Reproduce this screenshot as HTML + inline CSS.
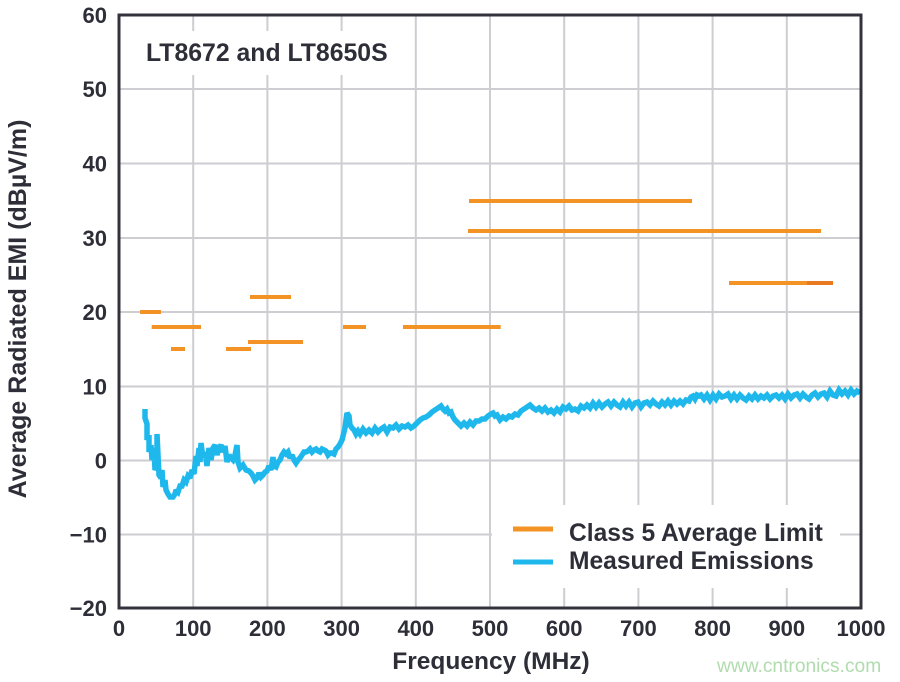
<!DOCTYPE html>
<html>
<head>
<meta charset="utf-8">
<style>
html,body{margin:0;padding:0;background:#fff;}
svg{display:block;}
text{font-family:"Liberation Sans",Arial,sans-serif;}
</style>
</head>
<body>
<svg width="900" height="682" viewBox="0 0 900 682" xmlns="http://www.w3.org/2000/svg">
<rect x="0" y="0" width="900" height="682" fill="#fff"/>
<!-- grid -->
<g stroke="#cdcdd2" stroke-width="2" fill="none">
<line x1="119" y1="89" x2="861" y2="89"/>
<line x1="119" y1="163.5" x2="861" y2="163.5"/>
<line x1="119" y1="238" x2="861" y2="238"/>
<line x1="119" y1="312" x2="861" y2="312"/>
<line x1="119" y1="386.5" x2="861" y2="386.5"/>
<line x1="119" y1="460.5" x2="861" y2="460.5"/>
<line x1="119" y1="534.5" x2="861" y2="534.5"/>
<line x1="193.2" y1="15" x2="193.2" y2="608"/>
<line x1="267.4" y1="15" x2="267.4" y2="608"/>
<line x1="341.6" y1="15" x2="341.6" y2="608"/>
<line x1="415.8" y1="15" x2="415.8" y2="608"/>
<line x1="490" y1="15" x2="490" y2="608"/>
<line x1="564.2" y1="15" x2="564.2" y2="608"/>
<line x1="638.4" y1="15" x2="638.4" y2="608"/>
<line x1="712.6" y1="15" x2="712.6" y2="608"/>
<line x1="786.8" y1="15" x2="786.8" y2="608"/>
</g>
<!-- title box & legend box -->
<rect x="121" y="31" width="280" height="44" fill="#fff"/>
<rect x="492" y="505" width="348" height="83" fill="#fff"/>
<!-- limit lines -->
<g stroke="#f39325" stroke-width="4" fill="none">
<line x1="140" y1="312" x2="161" y2="312"/>
<line x1="151.7" y1="327" x2="201" y2="327"/>
<line x1="343" y1="327" x2="366" y2="327"/>
<line x1="403" y1="327" x2="500.7" y2="327"/>
<line x1="171" y1="349" x2="185" y2="349"/>
<line x1="226" y1="349" x2="251" y2="349"/>
<line x1="250" y1="297" x2="291" y2="297"/>
<line x1="248" y1="342" x2="303" y2="342"/>
<line x1="469" y1="201" x2="692" y2="201"/>
<line x1="468" y1="231" x2="821" y2="231"/>
<line x1="729" y1="283" x2="807" y2="283"/>
</g>
<line x1="807" y1="283" x2="833" y2="283" stroke="#ea7a22" stroke-width="4"/>
<!-- measured emissions -->
<polyline fill="none" stroke="#1fb8ec" stroke-width="5.5" stroke-linejoin="miter" stroke-miterlimit="2" points="
145,409 145,418 147,424 147,440 149,435 149,452 151,445 152,460 154,448 155,470 157,466 157,434 158,455 159,475 161,478 162,470 163,487 165,480 166,490 168,494 170,497 173,497 175,494 176,490 178,492 180,486 182,486 184,480 186,482 188,476 190,478 192,470 194,474 196,456 197,466 199,448 200,462 201,443 203,458 205,452 207,466 209,448 211,460 213,448 215,445 217,455 219,448 221,445 223,452 225,446 227,462 229,455 231,458 233,460 235,455 237,445 238,462 240,468 243,465 246,470 249,471 251,473 253,476 255,480 257,478 259,473 261,477 263,475 265,472 267,471 269,466 271,470 273,457 274,466 276,467 278,462 280,460 282,455 284,452 286,454 288,452 290,458 292,455 294,460 296,463 298,460 300,458 302,455 304,452 306,452 308,451 310,449 312,452 314,450 316,449 318,451 320,452 322,449 324,450 326,451 328,455 330,453 332,453 334,454 336,449 338,447 340,444 342,440 344,432 345,428 346,420 347,413 349,416 350,425 352,428 354,430 356,434 358,431 360,434 363,429 366,433 369,430 372,433 375,428 378,432 381,429 384,427 387,432 390,427 393,428 396,425 399,429 402,426 405,427 408,425 411,428 414,426 416,424 418,422 420,420 423,418 426,417 429,415 432,412 435,410 438,408 441,406 443,409 445,411 447,409 449,413 451,412 453,417 455,420 458,423 461,426 464,423 467,426 470,422 473,425 476,421 479,421 482,419 485,419 488,416 491,414 493,413 495,416 497,415 500,420 503,417 506,419 509,416 512,417 515,414 518,415 521,411 524,409 527,407 530,405 533,408 536,410 539,408 542,411 545,408 548,412 551,410 554,413 557,409 560,412 563,407 566,409 569,406 572,410 575,409 578,411 581,406 584,408 587,405 590,408 593,403 596,407 599,403 602,407 605,404 608,402 611,406 614,402 617,405 620,407 623,402 626,406 629,402 632,407 635,403 638,402 641,407 644,403 647,402 650,405 653,401 656,404 659,406 662,402 665,405 668,401 671,405 674,401 677,404 680,401 683,404 686,400 689,401 691,397 693,396 695,399 697,395 699,396 701,395 704,399 707,395 710,400 713,395 716,399 719,394 722,397 725,396 728,394 731,399 734,395 737,399 740,395 743,398 746,400 749,396 752,399 755,395 758,399 761,396 764,398 767,395 770,399 773,396 776,395 779,398 782,395 785,399 788,394 791,398 794,395 797,394 800,398 803,394 806,397 809,399 812,395 815,393 818,397 821,394 824,393 827,397 830,391 833,395 836,396 839,390 842,394 845,391 848,395 851,390 854,394 857,391 860,393"/>
<!-- frame -->
<rect x="119" y="15" width="742" height="593" fill="none" stroke="#33333d" stroke-width="3"/>
<!-- title -->
<text x="146" y="61" font-size="24.8" font-weight="bold" fill="#2e2e38">LT8672 and LT8650S</text>
<!-- legend -->
<line x1="513" y1="529" x2="553" y2="529" stroke="#f39325" stroke-width="5"/>
<line x1="513" y1="562" x2="553" y2="562" stroke="#1fb8ec" stroke-width="5"/>
<text x="569" y="541" font-size="24.6" font-weight="bold" fill="#2e2e38">Class 5 Average Limit</text>
<text x="569" y="569" font-size="24.6" font-weight="bold" fill="#2e2e38">Measured Emissions</text>
<!-- y ticks -->
<g font-size="22" font-weight="bold" fill="#2e2e38" text-anchor="end">
<text x="107" y="23">60</text>
<text x="107" y="97">50</text>
<text x="107" y="171.5">40</text>
<text x="107" y="246">30</text>
<text x="107" y="320">20</text>
<text x="107" y="394.5">10</text>
<text x="107" y="468.5">0</text>
<text x="107" y="542.5">−10</text>
<text x="107" y="616">−20</text>
</g>
<!-- x ticks -->
<g font-size="22" font-weight="bold" fill="#2e2e38" text-anchor="middle">
<text x="119" y="636">0</text>
<text x="193.2" y="636">100</text>
<text x="267.4" y="636">200</text>
<text x="341.6" y="636">300</text>
<text x="415.8" y="636">400</text>
<text x="490" y="636">500</text>
<text x="564.2" y="636">600</text>
<text x="638.4" y="636">700</text>
<text x="712.6" y="636">800</text>
<text x="786.8" y="636">900</text>
<text x="861" y="636">1000</text>
</g>
<!-- axis labels -->
<text x="491" y="669" font-size="24.5" font-weight="bold" fill="#2e2e38" text-anchor="middle">Frequency (MHz)</text>
<text transform="translate(26,309) rotate(-90)" font-size="25" font-weight="bold" fill="#2e2e38" text-anchor="middle">Average Radiated EMI (dBµV/m)</text>
<!-- watermark -->
<text x="717" y="672" font-size="19.2" fill="#b0dcae">www.cntronics.com</text>
</svg>
</body>
</html>
